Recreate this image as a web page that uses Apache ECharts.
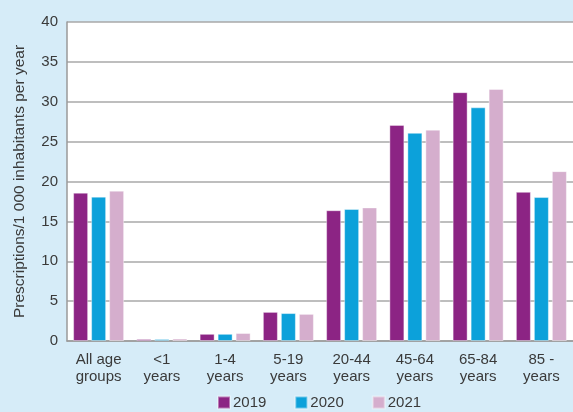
<!DOCTYPE html>
<html><head><meta charset="utf-8">
<script src="https://cdn.jsdelivr.net/npm/echarts@6/dist/echarts.min.js"></script>
<style>html,body{margin:0;padding:0;background:#d6ecf8}#c{width:573px;height:412px}</style>
</head><body><div id="c"></div>
<script>
const categories = ["All age\ngroups", "<1\nyears", "1-4\nyears", "5-19\nyears", "20-44\nyears", "45-64\nyears", "65-84\nyears", "85 -\nyears"];
const s2019 = [18.6, 0.25, 0.9, 3.65, 16.4, 27.1, 31.2, 18.7];
const s2020 = [18.1, 0.25, 0.9, 3.5, 16.55, 26.1, 29.3, 18.05];
const s2021 = [18.85, 0.3, 1.0, 3.4, 16.75, 26.5, 31.6, 21.3];
const seriesNames = ["2019", "2020", "2021"];
const colors = ["#8c2484", "#0ca1da", "#d5aecd"];
const yTicks = {min: 0, max: 40, interval: 5};
const yName = "Prescriptions/1 000 inhabitants per year";

const chart = echarts.init(document.getElementById('c'), null, {renderer: 'canvas'});
const data = [s2019, s2020, s2021];
chart.setOption({
  backgroundColor: '#d6ecf8',
  animation: false,
  textStyle: {fontFamily: '"Liberation Sans", Arial, sans-serif'},
  grid: {left: 67, top: 22, width: 516, height: 319, show: true, backgroundColor: '#ffffff', borderWidth: 0},
  legend: {
    left: 212, top: 390, itemWidth: 12, itemHeight: 12, itemGap: 28, icon: 'rect',
    textStyle: {fontSize: 15, color: '#3a3a3a', padding: [0, 0, 0, -2]},
    data: seriesNames
  },
  xAxis: {
    type: 'category', data: categories,
    axisLine: {show: true, lineStyle: {color: '#9a9a9a', width: 1.5}},
    axisTick: {show: false},
    axisLabel: {fontSize: 15, color: '#3a3a3a', lineHeight: 17, margin: 10, interval: 0}
  },
  yAxis: {
    type: 'value', min: yTicks.min, max: yTicks.max, interval: yTicks.interval,
    name: yName, nameLocation: 'middle', nameGap: 39, nameRotate: 90,
    nameTextStyle: {fontSize: 15.5, color: '#3a3a3a'},
    axisLine: {show: true, lineStyle: {color: '#9a9a9a', width: 1.5}},
    axisTick: {show: false},
    axisLabel: {fontSize: 15, color: '#3a3a3a', margin: 9},
    splitLine: {show: true, lineStyle: {color: '#a8a8a8', width: 1.5}}
  },
  series: seriesNames.map((n, i) => ({
    name: n, type: 'bar', data: data[i], barWidth: 15, barGap: '20%',
    itemStyle: {color: colors[i], borderColor: 'rgba(255,255,255,0.4)', borderWidth: 1}
  }))
});
</script></body></html>
